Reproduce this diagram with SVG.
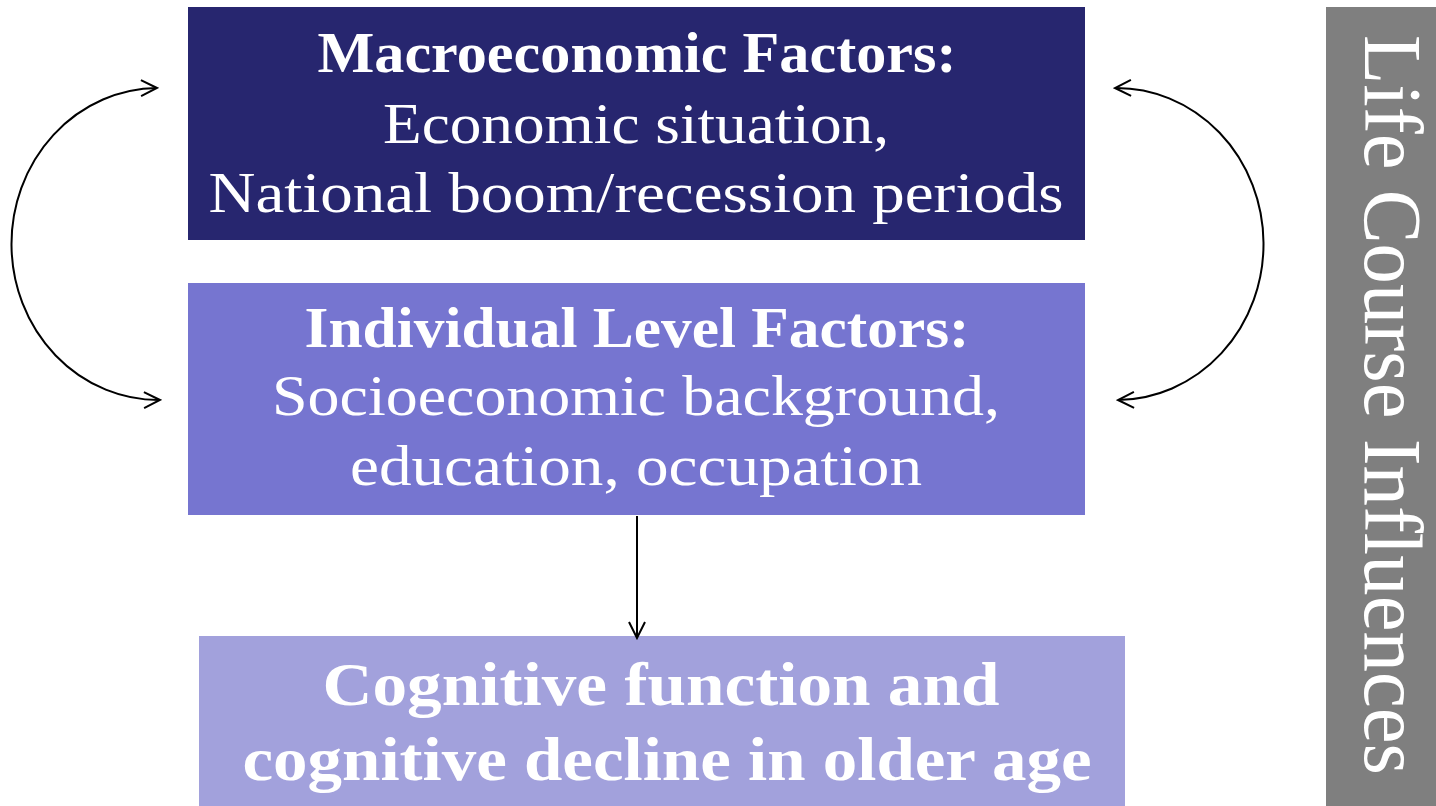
<svg xmlns="http://www.w3.org/2000/svg" width="1436" height="806" viewBox="0 0 1436 806">
<defs>
<style>
.t{font-family:"Liberation Serif","DejaVu Serif",serif;fill:#fff;text-anchor:middle}
.b{font-weight:bold}
.c{fill:none;stroke:#000;stroke-width:2}
</style>
<marker id="ah" viewBox="0 0 20 20" refX="18" refY="10" markerWidth="20" markerHeight="20" markerUnits="userSpaceOnUse" orient="auto-start-reverse">
<path d="M2,2 L18,10 L2,18" fill="none" stroke="#000" stroke-width="2"/>
</marker>
</defs>
<rect width="1436" height="806" fill="#fff"/>
<g id="macro">
<rect x="188" y="7" width="897" height="233" fill="#27266F"/>
<text class="t b" x="637" y="72" font-size="57" textLength="639" lengthAdjust="spacingAndGlyphs">Macroeconomic Factors:</text>
<text class="t" x="636" y="143" font-size="58" textLength="506" lengthAdjust="spacingAndGlyphs">Economic situation,</text>
<text class="t" x="636" y="212" font-size="58" textLength="855" lengthAdjust="spacingAndGlyphs">National boom/recession periods</text>
</g>
<g id="individual">
<rect x="188" y="283" width="897" height="232" fill="#7675D0"/>
<text class="t b" x="637" y="347" font-size="57" textLength="665" lengthAdjust="spacingAndGlyphs">Individual Level Factors:</text>
<text class="t" x="636" y="415" font-size="58" textLength="728" lengthAdjust="spacingAndGlyphs">Socioeconomic background,</text>
<text class="t" x="636" y="485" font-size="58" textLength="572" lengthAdjust="spacingAndGlyphs">education, occupation</text>
</g>
<g id="outcome">
<rect x="199" y="636" width="926" height="170" fill="#A2A1DC"/>
<text class="t b" x="661" y="705" font-size="62" textLength="677" lengthAdjust="spacingAndGlyphs">Cognitive function and</text>
<text class="t b" x="667" y="780" font-size="62" textLength="849" lengthAdjust="spacingAndGlyphs">cognitive decline in older age</text>
</g>
<g id="lifecourse">
<rect x="1326" y="7" width="110" height="799" fill="#7F7F7F"/>
<text class="t" transform="translate(1365,405) rotate(90)" x="0" y="0" font-size="82" textLength="740" lengthAdjust="spacingAndGlyphs">Life Course Influences</text>
</g>
<g id="connectors">
<path class="c" d="M157,88 A147 156 0 0 0 160,400" marker-start="url(#ah)" marker-end="url(#ah)"/>
<path class="c" d="M1115,88 A147 156 0 0 1 1118,400" marker-start="url(#ah)" marker-end="url(#ah)"/>
<path class="c" d="M637,516 L637,638" marker-end="url(#ah)"/>
</g>
</svg>
